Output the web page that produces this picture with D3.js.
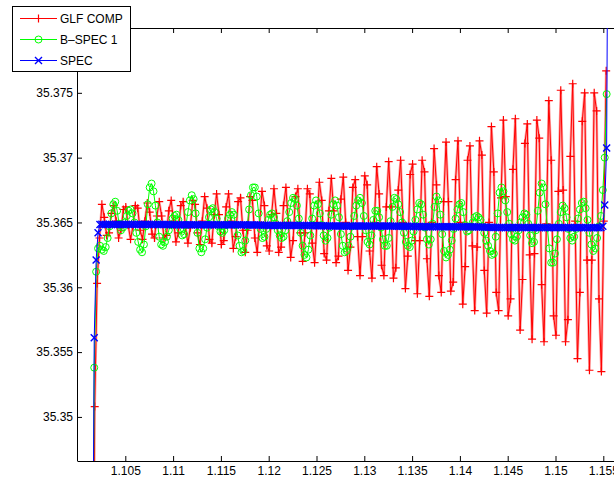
<!DOCTYPE html>
<html>
<head>
<meta charset="utf-8">
<script src="https://cdn.jsdelivr.net/npm/d3@7"></script>
<style>
  body { margin: 0; background: #fff; }
  svg { display: block; font-family: "Liberation Sans", Arial, Helvetica, sans-serif; }
</style>
</head>
<body>
<div id="chart"></div>
<script>
// tick values as shown on the axes
var xTicks = [1.105, 1.11, 1.115, 1.12, 1.125, 1.13, 1.135, 1.14, 1.145, 1.15, 1.155];
var yTicks = [35.35, 35.355, 35.36, 35.365, 35.37, 35.375];
var legendLabels = ['GLF COMP', 'B\u2013SPEC 1', 'SPEC'];

// GLF COMP, uniformly sampled from glfX0
var glfX0 = 1.10155, glfStep = 0.00025;
var glfComp = [
  35.3200, 35.3508, 35.3603, 35.3638, 35.3664, 35.3654, 35.3640, 35.3642, 35.3657, 35.3663,
  35.3651, 35.3638, 35.3644, 35.3660, 35.3662, 35.3648, 35.3637, 35.3647, 35.3663, 35.3661,
  35.3644, 35.3637, 35.3651, 35.3665, 35.3658, 35.3641, 35.3638, 35.3655, 35.3666, 35.3655,
  35.3638, 35.3640, 35.3659, 35.3667, 35.3651, 35.3635, 35.3642, 35.3663, 35.3666, 35.3646,
  35.3634, 35.3646, 35.3667, 35.3664, 35.3642, 35.3633, 35.3651, 35.3670, 35.3661, 35.3637,
  35.3634, 35.3656, 35.3672, 35.3656, 35.3633, 35.3636, 35.3662, 35.3672, 35.3651, 35.3630,
  35.3639, 35.3666, 35.3669, 35.3644, 35.3627, 35.3644, 35.3670, 35.3667, 35.3638, 35.3627,
  35.3650, 35.3674, 35.3663, 35.3632, 35.3628, 35.3656, 35.3676, 35.3657, 35.3627, 35.3631,
  35.3663, 35.3677, 35.3650, 35.3623, 35.3636, 35.3670, 35.3676, 35.3642, 35.3620, 35.3642,
  35.3676, 35.3672, 35.3634, 35.3619, 35.3650, 35.3681, 35.3667, 35.3626, 35.3621, 35.3659,
  35.3684, 35.3659, 35.3619, 35.3624, 35.3668, 35.3685, 35.3650, 35.3613, 35.3631, 35.3677,
  35.3683, 35.3639, 35.3609, 35.3639, 35.3686, 35.3679, 35.3628, 35.3607, 35.3650, 35.3693,
  35.3672, 35.3617, 35.3609, 35.3662, 35.3697, 35.3662, 35.3607, 35.3615, 35.3675, 35.3698,
  35.3650, 35.3599, 35.3624, 35.3687, 35.3695, 35.3636, 35.3595, 35.3636, 35.3698, 35.3689,
  35.3622, 35.3593, 35.3650, 35.3707, 35.3679, 35.3609, 35.3596, 35.3666, 35.3712, 35.3666,
  35.3597, 35.3604, 35.3683, 35.3713, 35.3650, 35.3587, 35.3616, 35.3698, 35.3709, 35.3632,
  35.3582, 35.3631, 35.3713, 35.3702, 35.3613, 35.3580, 35.3650, 35.3724, 35.3689, 35.3596,
  35.3582, 35.3669, 35.3729, 35.3670, 35.3578, 35.3591, 35.3691, 35.3730, 35.3648, 35.3567,
  35.3606, 35.3711, 35.3726, 35.3625, 35.3560, 35.3626, 35.3729, 35.3715, 35.3602, 35.3558,
  35.3649, 35.3744, 35.3698, 35.3578, 35.3563, 35.3674, 35.3752, 35.3675, 35.3558, 35.3575,
  35.3701, 35.3757, 35.3651, 35.3545, 35.3596, 35.3728, 35.3750, 35.3621, 35.3536, 35.3621,
  35.3750, 35.3736, 35.3591, 35.3535, 35.3651, 35.3767
];

// B-SPEC 1
var bspecX0 = 1.10155, bspecStep = 0.0002;
var bspec1 = [
  35.3300, 35.3538, 35.3612, 35.3630, 35.3632, 35.3629, 35.3628, 35.3631, 35.3638, 35.3647,
  35.3657, 35.3664, 35.3666, 35.3659, 35.3649, 35.3644, 35.3646, 35.3650, 35.3655, 35.3659,
  35.3660, 35.3657, 35.3650, 35.3642, 35.3635, 35.3629, 35.3627, 35.3633, 35.3647, 35.3664,
  35.3677, 35.3680, 35.3674, 35.3663, 35.3650, 35.3639, 35.3633, 35.3632, 35.3635, 35.3639,
  35.3644, 35.3648, 35.3653, 35.3655, 35.3656, 35.3652, 35.3645, 35.3640, 35.3641, 35.3648,
  35.3658, 35.3667, 35.3671, 35.3668, 35.3657, 35.3642, 35.3630, 35.3627, 35.3630, 35.3637,
  35.3646, 35.3654, 35.3660, 35.3661, 35.3658, 35.3653, 35.3647, 35.3643, 35.3642, 35.3644,
  35.3648, 35.3653, 35.3656, 35.3658, 35.3656, 35.3648, 35.3640, 35.3632, 35.3627, 35.3628,
  35.3636, 35.3647, 35.3660, 35.3671, 35.3677, 35.3677, 35.3670, 35.3657, 35.3645, 35.3638,
  35.3639, 35.3645, 35.3652, 35.3656, 35.3657, 35.3654, 35.3649, 35.3644, 35.3640, 35.3638,
  35.3639, 35.3644, 35.3651, 35.3658, 35.3665, 35.3669, 35.3668, 35.3663, 35.3653, 35.3642,
  35.3632, 35.3625, 35.3623, 35.3629, 35.3640, 35.3653, 35.3663, 35.3667, 35.3664, 35.3657,
  35.3648, 35.3640, 35.3636, 35.3638, 35.3646, 35.3656, 35.3664, 35.3667, 35.3663, 35.3654,
  35.3641, 35.3632, 35.3627, 35.3628, 35.3632, 35.3639, 35.3647, 35.3655, 35.3663, 35.3667,
  35.3669, 35.3665, 35.3655, 35.3644, 35.3635, 35.3633, 35.3640, 35.3652, 35.3659, 35.3659,
  35.3654, 35.3646, 35.3637, 35.3632, 35.3632, 35.3638, 35.3651, 35.3662, 35.3669, 35.3668,
  35.3664, 35.3658, 35.3650, 35.3642, 35.3635, 35.3632, 35.3631, 35.3636, 35.3643, 35.3652,
  35.3660, 35.3665, 35.3664, 35.3656, 35.3646, 35.3637, 35.3633, 35.3637, 35.3649, 35.3662,
  35.3670, 35.3667, 35.3656, 35.3641, 35.3628, 35.3623, 35.3625, 35.3629, 35.3636, 35.3645,
  35.3653, 35.3660, 35.3664, 35.3665, 35.3658, 35.3648, 35.3643, 35.3644, 35.3647, 35.3650,
  35.3654, 35.3655, 35.3654, 35.3652, 35.3647, 35.3642, 35.3636, 35.3632, 35.3628, 35.3625,
  35.3626, 35.3639, 35.3657, 35.3673, 35.3677, 35.3674, 35.3667, 35.3658, 35.3649, 35.3641,
  35.3637, 35.3636, 35.3639, 35.3644, 35.3650, 35.3654, 35.3657, 35.3656, 35.3649, 35.3640,
  35.3634, 35.3635, 35.3644, 35.3659, 35.3673, 35.3680, 35.3677, 35.3664, 35.3646, 35.3630,
  35.3619, 35.3619, 35.3626, 35.3637, 35.3649, 35.3658, 35.3663, 35.3661, 35.3654, 35.3645,
  35.3638, 35.3636, 35.3639, 35.3645, 35.3653, 35.3660, 35.3665, 35.3666, 35.3661, 35.3652,
  35.3642, 35.3633, 35.3628, 35.3630, 35.3638, 35.3647, 35.3655, 35.3675, 35.3700, 35.3749
];

// SPEC
var specX0 = 1.10155, specStep = 0.0002;
var spec = [
  35.33000, 35.35610, 35.36210, 35.36420,
  35.36485, 35.36486, 35.36485, 35.36484, 35.36485, 35.36486, 35.36485, 35.36485, 35.36484, 35.36485,
  35.36486, 35.36485, 35.36485, 35.36484, 35.36485, 35.36486, 35.36485, 35.36484, 35.36485, 35.36485,
  35.36486, 35.36485, 35.36484, 35.36485, 35.36485, 35.36486, 35.36485, 35.36484, 35.36485, 35.36485,
  35.36484, 35.36485, 35.36485, 35.36484, 35.36485, 35.36484, 35.36484,
  35.36483, 35.36482, 35.36482, 35.36483, 35.36482, 35.36481, 35.36482, 35.36482, 35.36483, 35.36482,
  35.36482, 35.36481, 35.36482, 35.36482, 35.36483, 35.36482, 35.36481, 35.36482, 35.36482, 35.36482,
  35.36483, 35.36482, 35.36482, 35.36481, 35.36482, 35.36482, 35.36483, 35.36482, 35.36481, 35.36482,
  35.36482, 35.36481, 35.36482, 35.36482, 35.36483, 35.36482, 35.36482, 35.36481, 35.36482, 35.36482,
  35.36481, 35.36481, 35.36482, 35.36481, 35.36480, 35.36481, 35.36480, 35.36480, 35.36479, 35.36479,
  35.36478, 35.36477, 35.36477, 35.36478, 35.36477, 35.36476, 35.36477, 35.36477, 35.36478, 35.36477,
  35.36477, 35.36476, 35.36477, 35.36477, 35.36478, 35.36477, 35.36476, 35.36477, 35.36477, 35.36477,
  35.36476, 35.36476, 35.36477, 35.36476, 35.36475, 35.36476, 35.36475, 35.36475, 35.36474, 35.36474,
  35.36474, 35.36473, 35.36473, 35.36474, 35.36473, 35.36472, 35.36473, 35.36472, 35.36473, 35.36472,
  35.36472, 35.36472, 35.36471, 35.36472, 35.36473, 35.36472, 35.36471, 35.36472, 35.36472, 35.36472,
  35.36472, 35.36473, 35.36472, 35.36471, 35.36472, 35.36472, 35.36473, 35.36472, 35.36471, 35.36472,
  35.36472, 35.36471, 35.36472, 35.36472, 35.36473, 35.36472, 35.36471, 35.36472, 35.36471, 35.36471,
  35.36471, 35.36470, 35.36471, 35.36470, 35.36470, 35.36469, 35.36470, 35.36469, 35.36469, 35.36469,
  35.36468, 35.36467, 35.36467, 35.36468, 35.36467, 35.36466, 35.36467, 35.36467, 35.36468, 35.36467,
  35.36467, 35.36466, 35.36467, 35.36467, 35.36468, 35.36467, 35.36466, 35.36467, 35.36467, 35.36467,
  35.36466, 35.36467, 35.36467, 35.36466, 35.36467, 35.36466, 35.36466, 35.36467, 35.36466, 35.36466,
  35.36465, 35.36465, 35.36464, 35.36465, 35.36464, 35.36464, 35.36463, 35.36463, 35.36463, 35.36462,
  35.36462, 35.36461, 35.36461, 35.36462, 35.36461, 35.36460, 35.36461, 35.36461, 35.36462, 35.36461,
  35.36461, 35.36460, 35.36461, 35.36461, 35.36462, 35.36461, 35.36460, 35.36461, 35.36461, 35.36461,
  35.36462, 35.36461, 35.36461, 35.36460, 35.36461, 35.36461, 35.36462, 35.36461, 35.36460, 35.36461,
  35.36461, 35.36460, 35.36461, 35.36461, 35.36462, 35.36461, 35.36461, 35.36460, 35.36461, 35.36461,
  35.36460, 35.36461, 35.36461, 35.36460, 35.36461, 35.36461, 35.36460, 35.36461, 35.36460, 35.36460,
  35.36461, 35.36460, 35.36461, 35.36460, 35.36460, 35.36461,
  35.36470, 35.36635, 35.37075, 35.40000
];

var width = 614, height = 477;

var svg = d3.select('#chart').append('svg')
  .attr('width', width)
  .attr('height', height);

// axes box: left edge at x=1.1, right edge (x=1.16) falls outside the window
var x = d3.scaleLinear().domain([1.1, 1.16]).range([77.5, 651.1]);
var y = d3.scaleLinear().domain([35.3466, 35.38]).range([461, 28]);
var fmt = d3.format('~g');

function toPoints(vals, x0, step) {
  return vals.map(function(v, i) { return {x: x0 + i * step, y: v}; });
}

function styleAxis(g) {
  g.attr('font-family', null).attr('font-size', 12);
  g.selectAll('text').attr('fill', '#000');
}

// ticks point inwards, MATLAB style
svg.append('g')
  .attr('transform', 'translate(0,461)')
  .call(d3.axisBottom(x).tickValues(xTicks).tickSize(-5).tickSizeOuter(0).tickPadding(5).tickFormat(fmt))
  .call(styleAxis);

svg.append('g')
  .attr('transform', 'translate(0,28)')
  .call(d3.axisTop(x).tickValues(xTicks).tickSize(-5).tickSizeOuter(0).tickFormat(''));

svg.append('g')
  .attr('transform', 'translate(77,0)')
  .call(d3.axisLeft(y).tickValues(yTicks).tickSize(-5).tickSizeOuter(0).tickPadding(4).tickFormat(fmt))
  .call(styleAxis);

svg.append('g')
  .attr('transform', 'translate(651,0)')
  .call(d3.axisRight(y).tickValues(yTicks).tickSize(-5).tickSizeOuter(0).tickFormat(''));

svg.append('clipPath').attr('id', 'plot-clip')
  .append('rect')
  .attr('x', 77.5).attr('y', 28)
  .attr('width', 651.1 - 77.5).attr('height', 461 - 28);

var plotArea = svg.append('g').attr('clip-path', 'url(#plot-clip)');

var line = d3.line()
  .x(function(d) { return x(d.x); })
  .y(function(d) { return y(d.y); });

var plusPath = 'M-4,0H4M0,-4V4';
var crossPath = 'M-3.5,-3.5L3.5,3.5M-3.5,3.5L3.5,-3.5';

var series = [
  {pts: toPoints(glfComp, glfX0, glfStep), color: '#ff0000', marker: 'plus', halo: true},
  {pts: toPoints(bspec1, bspecX0, bspecStep), color: '#00ff00', marker: 'circle'},
  {pts: toPoints(spec, specX0, specStep), color: '#0000ff', marker: 'cross'}
];

function drawMarker(sel, type, color) {
  if (type === 'circle') {
    sel.append('circle')
      .attr('r', 3.5)
      .attr('fill', 'none')
      .attr('stroke', color)
      .attr('stroke-width', 1);
  } else {
    sel.append('path')
      .attr('d', type === 'plus' ? plusPath : crossPath)
      .attr('fill', 'none')
      .attr('stroke', color)
      .attr('stroke-width', type === 'plus' ? 1.2 : 1.4);
  }
}

series.forEach(function(s) {
  var g = plotArea.append('g');
  // the red trace in the original has a soft pink edge round a thin core
  if (s.halo) {
    g.append('path')
      .datum(s.pts)
      .attr('d', line)
      .attr('fill', 'none')
      .attr('stroke', s.color)
      .attr('stroke-opacity', 0.35)
      .attr('stroke-width', 2.6);
  }
  g.append('path')
    .datum(s.pts)
    .attr('d', line)
    .attr('fill', 'none')
    .attr('stroke', s.color)
    .attr('stroke-width', 1);

  g.selectAll('g.mk')
    .data(s.pts)
    .enter()
    .append('g')
      .attr('class', 'mk')
      .attr('transform', function(d) { return 'translate(' + x(d.x) + ',' + y(d.y) + ')'; })
      .each(function() { drawMarker(d3.select(this), s.marker, s.color); });
});

// legend sits over the top-left corner of the axes
var legend = svg.append('g');
legend.append('rect')
  .attr('x', 12.5).attr('y', 6.5)
  .attr('width', 118).attr('height', 65)
  .attr('fill', '#fff')
  .attr('stroke', '#000');

var rowY = [18.5, 39.5, 60.5];
series.forEach(function(s, i) {
  var row = legend.append('g').attr('transform', 'translate(0,' + rowY[i] + ')');
  row.append('line')
    .attr('x1', 20).attr('x2', 57)
    .attr('stroke', s.color).attr('stroke-width', 1);
  var mk = row.append('g').attr('transform', 'translate(38.5,0)');
  drawMarker(mk, s.marker, s.color);
  row.append('text')
    .attr('x', 60)
    .attr('dy', '0.35em')
    .attr('font-size', 12)
    .text(legendLabels[i]);
});
</script>
</body>
</html>
